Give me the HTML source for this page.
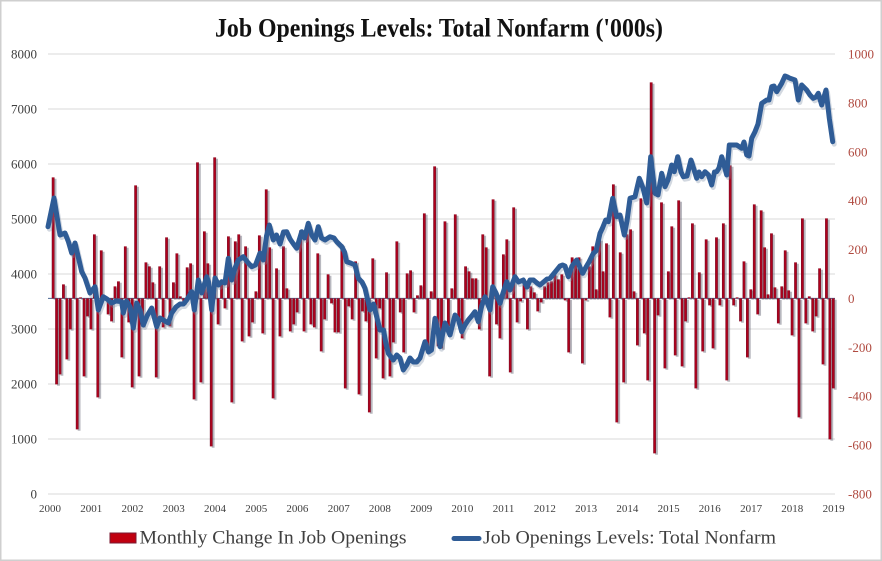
<!DOCTYPE html>
<html><head><meta charset="utf-8">
<style>
html,body{margin:0;padding:0;background:#fff;}
body{width:882px;height:561px;overflow:hidden;}
svg{display:block;}
.ax{font-family:"Liberation Serif",serif;font-size:13px;fill:#404040;}
.axr{font-family:"Liberation Serif",serif;font-size:13px;fill:#b04a40;}
.axx{font-family:"Liberation Serif",serif;font-size:11px;fill:#404040;}
.lg{font-family:"Liberation Serif",serif;font-size:19px;fill:#404040;}
</style></head>
<body>
<svg width="882" height="561" viewBox="0 0 882 561" xmlns="http://www.w3.org/2000/svg">
<defs>
<linearGradient id="bg" gradientUnits="userSpaceOnUse" x1="0" y1="0" x2="1" y2="0" spreadMethod="repeat">
<stop offset="0" stop-color="#64182f"/>
<stop offset="0.22" stop-color="#a8001c"/>
<stop offset="0.45" stop-color="#b8001a"/>
<stop offset="0.82" stop-color="#6e1a30"/>
<stop offset="1" stop-color="#6e1a30"/>
</linearGradient>
</defs>
<rect x="0.75" y="0.75" width="880.5" height="559.5" fill="#fff" stroke="#cfcfcf" stroke-width="1.5"/>

<text x="215" y="36.5" textLength="448" lengthAdjust="spacingAndGlyphs" style="font-family:'Liberation Serif',serif;font-weight:bold;font-size:26px;fill:#111;">Job Openings Levels: Total Nonfarm ('000s)</text>

<g stroke="#d9d9d9" stroke-width="1">
<line x1="48" y1="54" x2="835" y2="54"/>
<line x1="48" y1="109" x2="835" y2="109"/>
<line x1="48" y1="164" x2="835" y2="164"/>
<line x1="48" y1="219" x2="835" y2="219"/>
<line x1="48" y1="274" x2="835" y2="274"/>
<line x1="48" y1="329" x2="835" y2="329"/>
<line x1="48" y1="384" x2="835" y2="384"/>
<line x1="48" y1="439" x2="835" y2="439"/>
<line x1="48" y1="494" x2="835" y2="494"/>
</g>

<g class="ax" text-anchor="end">
<text x="37" y="58.5">8000</text>
<text x="37" y="113.5">7000</text>
<text x="37" y="168.5">6000</text>
<text x="37" y="223.5">5000</text>
<text x="37" y="278.5">4000</text>
<text x="37" y="333.5">3000</text>
<text x="37" y="388.5">2000</text>
<text x="37" y="443.5">1000</text>
<text x="37" y="498.5">0</text>
</g>

<g class="axr">
<text x="848" y="58.5">1000</text>
<text x="848" y="107.4">800</text>
<text x="848" y="156.3">600</text>
<text x="848" y="205.2">400</text>
<text x="848" y="254.1">200</text>
<text x="848" y="302.9">0</text>
<text x="848" y="351.8">-200</text>
<text x="848" y="400.7">-400</text>
<text x="848" y="449.6">-600</text>
<text x="848" y="498.5">-800</text>
</g>

<g class="axx" text-anchor="middle">
<text x="50" y="512">2000</text>
<text x="91.2" y="512">2001</text>
<text x="132.5" y="512">2002</text>
<text x="173.7" y="512">2003</text>
<text x="215" y="512">2004</text>
<text x="256.2" y="512">2005</text>
<text x="297.4" y="512">2006</text>
<text x="338.7" y="512">2007</text>
<text x="379.9" y="512">2008</text>
<text x="421.2" y="512">2009</text>
<text x="462.4" y="512">2010</text>
<text x="503.6" y="512">2011</text>
<text x="544.9" y="512">2012</text>
<text x="586.1" y="512">2013</text>
<text x="627.4" y="512">2014</text>
<text x="668.6" y="512">2015</text>
<text x="709.8" y="512">2016</text>
<text x="751.1" y="512">2017</text>
<text x="792.3" y="512">2018</text>
<text x="833.6" y="512">2019</text>
</g>

<line x1="48" y1="298.4" x2="835" y2="298.4" stroke="#4a6590" stroke-width="1"/>

<g id="bars">
<g transform="translate(50.2,299.8) scale(3.437,1)" fill="#555566" opacity="0.42">
<path id="bp" d="M1 0v-121h.82v121zM2 0v86h.82v-86zM3 0v76h.82v-76zM4 0v-14h.82v14zM5 0v61h.82v-61zM6 0v31h.82v-31zM7 0v-50h.82v50zM8 0v131h.82v-131zM9 0v-1h.82v1zM10 0v78h.82v-78zM11 0v18h.82v-18zM12 0v31h.82v-31zM13 0v-64h.82v64zM14 0v99h.82v-99zM15 0v-48h.82v48zM16 0v-2h.82v2zM17 0v16h.82v-16zM18 0v23h.82v-23zM19 0v-12h.82v12zM20 0v-17h.82v17zM21 0v59h.82v-59zM22 0v-52h.82v52zM23 0v24h.82v-24zM24 0v89h.82v-89zM25 0v-113h.82v113zM26 0v78h.82v-78zM27 0v28h.82v-28zM28 0v-36h.82v36zM29 0v-32h.82v32zM30 0v-16h.82v16zM31 0v79h.82v-79zM32 0v-32h.82v32zM33 0v29h.82v-29zM34 0v-61h.82v61zM35 0v28h.82v-28zM36 0v-16h.82v16zM37 0v-45h.82v45zM38 0v-2h.82v2zM39 0v5h.82v-5zM40 0v-31h.82v31zM41 0v-35h.82v35zM42 0v101h.82v-101zM43 0v-136h.82v136zM44 0v84h.82v-84zM45 0v-67h.82v67zM46 0v-35h.82v35zM47 0v148h.82v-148zM48 0v-141h.82v141zM49 0v26h.82v-26zM50 0v-15h.82v15zM51 0v10h.82v-10zM52 0v-62h.82v62zM53 0v104h.82v-104zM54 0v-57h.82v57zM55 0v-64h.82v64zM56 0v43h.82v-43zM57 0v-52h.82v52zM58 0v38h.82v-38zM59 0v24h.82v-24zM60 0v-7h.82v7zM61 0v-63h.82v63zM62 0v35h.82v-35zM63 0v-109h.82v109zM64 0v-51h.82v51zM65 0v100h.82v-100zM66 0v-30h.82v30zM67 0v38h.82v-38zM68 0v-52h.82v52zM69 0v-10h.82v10zM70 0v33h.82v-33zM71 0v26h.82v-26zM72 0v14h.82v-14zM73 0v-68h.82v68zM74 0v33h.82v-33zM75 0v-69h.82v69zM76 0v26h.82v-26zM77 0v29h.82v-29zM78 0v-45h.82v45zM79 0v53h.82v-53zM80 0v21h.82v-21zM81 0v-24h.82v24zM82 0v5h.82v-5zM83 0v34h.82v-34zM84 0v34h.82v-34zM85 0v-54h.82v54zM86 0v90h.82v-90zM87 0v8h.82v-8zM88 0v21h.82v-21zM89 0v-37h.82v37zM90 0v96h.82v-96zM91 0v13h.82v-13zM92 0v23h.82v-23zM93 0v114h.82v-114zM94 0v-40h.82v40zM95 0v60h.82v-60zM96 0v10h.82v-10zM97 0v80h.82v-80zM98 0v-26h.82v26zM99 0v78h.82v-78zM100 0v44h.82v-44zM101 0v-57h.82v57zM102 0v14h.82v-14zM103 0v54h.82v-54zM104 0v-25h.82v25zM105 0v-28h.82v28zM106 0v14h.82v-14zM107 0v-3h.82v3zM108 0v-13h.82v13zM109 0v-85h.82v85zM110 0v48h.82v-48zM111 0v-7h.82v7zM112 0v-132h.82v132zM113 0v48h.82v-48zM114 0v50h.82v-50zM115 0v-77h.82v77zM116 0v28h.82v-28zM117 0v-10h.82v10zM118 0v-84h.82v84zM119 0v24h.82v-24zM120 0v40h.82v-40zM121 0v-32h.82v32zM122 0v-27h.82v27zM123 0v-20h.82v20zM124 0v-20h.82v20zM125 0v31h.82v-31zM126 0v-64h.82v64zM127 0v-51h.82v51zM128 0v78h.82v-78zM129 0v-99h.82v99zM130 0v26h.82v-26zM131 0v40h.82v-40zM132 0v-44h.82v44zM133 0v-59h.82v59zM134 0v74h.82v-74zM135 0v-91h.82v91zM136 0v24h.82v-24zM137 0v3h.82v-3zM138 0v-14h.82v14zM139 0v31h.82v-31zM140 0v-12h.82v12zM141 0v-6h.82v6zM142 0v13h.82v-13zM143 0v4h.82v-4zM144 0v-12h.82v12zM145 0v-16h.82v16zM146 0v-17h.82v17zM147 0v-24h.82v24zM148 0v-19h.82v19zM149 0v-24h.82v24zM150 0v2h.82v-2zM151 0v54h.82v-54zM152 0v-41h.82v41zM153 0v-36h.82v36zM154 0v-41h.82v41zM155 0v65h.82v-65zM156 0v2h.82v-2zM157 0v-32h.82v32zM158 0v-52h.82v52zM159 0v-9h.82v9zM160 0v-59h.82v59zM161 0v-27h.82v27zM162 0v-55h.82v55zM163 0v19h.82v-19zM164 0v-114h.82v114zM165 0v124h.82v-124zM166 0v-46h.82v46zM167 0v84h.82v-84zM168 0v-64h.82v64zM169 0v-69h.82v69zM170 0v-7h.82v7zM171 0v47h.82v-47zM172 0v-100h.82v100zM173 0v35h.82v-35zM174 0v82h.82v-82zM175 0v-216h.82v216zM176 0v155h.82v-155zM177 0v17h.82v-17zM178 0v-96h.82v96zM179 0v70h.82v-70zM180 0v-27h.82v27zM181 0v-72h.82v72zM182 0v57h.82v-57zM183 0v-98h.82v98zM184 0v68h.82v-68zM185 0v23h.82v-23zM186 0v-1h.82v1zM187 0v-75h.82v75zM188 0v90h.82v-90zM189 0v-26h.82v26zM190 0v53h.82v-53zM191 0v-59h.82v59zM192 0v7h.82v-7zM193 0v50h.82v-50zM194 0v-61h.82v61zM195 0v7h.82v-7zM196 0v-75h.82v75zM197 0v82h.82v-82zM198 0v-133h.82v133zM199 0v7h.82v-7zM200 0v-1h.82v1zM201 0v23h.82v-23zM202 0v-37h.82v37zM203 0v59h.82v-59zM204 0v-9h.82v9zM205 0v-94h.82v94zM206 0v16h.82v-16zM207 0v-88h.82v88zM208 0v-51h.82v51zM209 0v-4h.82v4zM210 0v-65h.82v65zM211 0v-11h.82v11zM212 0v25h.82v-25zM213 0v-12h.82v12zM214 0v-48h.82v48zM215 0v-8h.82v8zM216 0v37h.82v-37zM217 0v-36h.82v36zM218 0v119h.82v-119zM219 0v-80h.82v80zM220 0v25h.82v-25zM221 0v-2h.82v2zM222 0v33h.82v-33zM223 0v18h.82v-18zM224 0v-30h.82v30zM225 0v66h.82v-66zM226 0v-80h.82v80zM227 0v141h.82v-141zM228 0v90h.82v-90z"/>
</g>
<g transform="translate(48.3,298.4) scale(3.437,1)" fill="url(#bg)">
<use href="#bp"/>
</g>
</g>

<polyline transform="translate(1.5,2.5)" fill="none" stroke="#7f8fa6" stroke-opacity="0.35" stroke-width="5" stroke-linejoin="round" stroke-linecap="round" points="48,226.7 54,198 60,235 65,233 68.5,242 71.7,253 75,243 78.5,258 81.7,271.7 85,278 90,293 95,286.7 98.3,310 103.3,296.7 107,299 111.7,303 116,301 121.7,301.7 123.3,313 126.5,301 130,306.7 133.3,328 136.7,303 140,310 143.3,325 147,316 151.7,308 156.7,326.7 160,318 163.3,320 168.3,323 171.7,313 176,307 180,304 183.5,304 186.7,300 191.7,291.7 194.3,310 198.3,280 201.7,293 206.7,276.7 208.5,282 211.7,310 215,278 218.5,285 221.7,281.7 225,283 228.3,258.3 231.7,280 235,268 238.3,260 243.3,256.7 248.3,263 251.7,266.7 255.5,265 260,253 263.3,260 266.5,236 269.3,225 273.3,240 276.5,235 280,244 283.5,232 286.7,231.7 290,239 293.5,244 296.7,248.3 301.7,231.7 304.5,238 308.3,223.3 311.7,235 315,240 318.3,226.7 321.5,238 325,240 330,236.7 334,238 336.7,241.7 341.7,246.7 344.5,252 346.7,261.7 350.5,263 355,265 358.3,278.3 362,282 365,288.3 370,310 373.5,304 377,318 380,330 383.5,330 386,344 388.3,353.3 393.3,360 396.7,355 400,358 403.3,370 406.7,365 410,358 413.3,362 416.7,362 420,358 425,341.7 428.5,352 431.5,350 435,318.3 438,331 440,346.7 445,323 450,335 455,315 458.5,320 461.7,331.7 465,325 468.3,320 471.7,316 475,311.7 478.3,321.7 481.7,306 485,296.7 490,310 492.7,286.7 496,293 500,303.3 503,293 506.7,281.7 510,290 515,276.7 518.5,282 523.3,280 527,287 530,280 533.5,280 537,283 540,285 543.5,282 547,279 550,278.3 553.5,274 556.7,270 560,266 562.7,265 565,266 568.3,276.7 572,266 576.7,260 582.7,273.3 586,267 589,262 593.3,253.3 596,251 600,233.3 602.5,228 605.7,220 608.3,221.7 612.7,198.3 616.7,216.7 620,215 624.3,235 627,221 630,198.3 635,196.7 639.3,178.3 643,188 646.7,203 650.7,156.7 655,193.3 658,195 661.7,173.3 665,186.7 668,180 671.7,165 674.3,171.7 677.7,156.7 681,172 683.3,176.7 687,176 691,160 696.7,178.3 699,172 701.7,176.7 705,171.7 708.5,175 711.7,185 714.5,172 716.7,171.7 719,168 721.7,156.7 726.7,175 729.3,145 733,145 736.7,145 741.7,148.3 744,142 746.7,155 749,156 751.7,138.3 755,131.7 758,124 761.7,103.3 766.7,100 769,100 771.7,86.7 774,86 776.7,91.7 781.7,83.3 785,76 787.5,77 790,78.3 795,80 798.3,100 801.7,85 806.7,90 810,95 813.3,98.3 816,97 818.3,93.3 821.7,105 826,90 829.3,118.3 832.7,141.7"/>
<polyline fill="none" stroke="#2f5c96" stroke-width="5" stroke-linejoin="round" stroke-linecap="round" points="48,226.7 54,198 60,235 65,233 68.5,242 71.7,253 75,243 78.5,258 81.7,271.7 85,278 90,293 95,286.7 98.3,310 103.3,296.7 107,299 111.7,303 116,301 121.7,301.7 123.3,313 126.5,301 130,306.7 133.3,328 136.7,303 140,310 143.3,325 147,316 151.7,308 156.7,326.7 160,318 163.3,320 168.3,323 171.7,313 176,307 180,304 183.5,304 186.7,300 191.7,291.7 194.3,310 198.3,280 201.7,293 206.7,276.7 208.5,282 211.7,310 215,278 218.5,285 221.7,281.7 225,283 228.3,258.3 231.7,280 235,268 238.3,260 243.3,256.7 248.3,263 251.7,266.7 255.5,265 260,253 263.3,260 266.5,236 269.3,225 273.3,240 276.5,235 280,244 283.5,232 286.7,231.7 290,239 293.5,244 296.7,248.3 301.7,231.7 304.5,238 308.3,223.3 311.7,235 315,240 318.3,226.7 321.5,238 325,240 330,236.7 334,238 336.7,241.7 341.7,246.7 344.5,252 346.7,261.7 350.5,263 355,265 358.3,278.3 362,282 365,288.3 370,310 373.5,304 377,318 380,330 383.5,330 386,344 388.3,353.3 393.3,360 396.7,355 400,358 403.3,370 406.7,365 410,358 413.3,362 416.7,362 420,358 425,341.7 428.5,352 431.5,350 435,318.3 438,331 440,346.7 445,323 450,335 455,315 458.5,320 461.7,331.7 465,325 468.3,320 471.7,316 475,311.7 478.3,321.7 481.7,306 485,296.7 490,310 492.7,286.7 496,293 500,303.3 503,293 506.7,281.7 510,290 515,276.7 518.5,282 523.3,280 527,287 530,280 533.5,280 537,283 540,285 543.5,282 547,279 550,278.3 553.5,274 556.7,270 560,266 562.7,265 565,266 568.3,276.7 572,266 576.7,260 582.7,273.3 586,267 589,262 593.3,253.3 596,251 600,233.3 602.5,228 605.7,220 608.3,221.7 612.7,198.3 616.7,216.7 620,215 624.3,235 627,221 630,198.3 635,196.7 639.3,178.3 643,188 646.7,203 650.7,156.7 655,193.3 658,195 661.7,173.3 665,186.7 668,180 671.7,165 674.3,171.7 677.7,156.7 681,172 683.3,176.7 687,176 691,160 696.7,178.3 699,172 701.7,176.7 705,171.7 708.5,175 711.7,185 714.5,172 716.7,171.7 719,168 721.7,156.7 726.7,175 729.3,145 733,145 736.7,145 741.7,148.3 744,142 746.7,155 749,156 751.7,138.3 755,131.7 758,124 761.7,103.3 766.7,100 769,100 771.7,86.7 774,86 776.7,91.7 781.7,83.3 785,76 787.5,77 790,78.3 795,80 798.3,100 801.7,85 806.7,90 810,95 813.3,98.3 816,97 818.3,93.3 821.7,105 826,90 829.3,118.3 832.7,141.7"/>

<rect x="110" y="533" width="26" height="10" fill="#c00010" stroke="#7a1a32" stroke-width="1"/>
<text class="lg" x="139.5" y="543.5" textLength="267" lengthAdjust="spacingAndGlyphs">Monthly Change In Job Openings</text>
<line x1="454" y1="538.5" x2="479" y2="538.5" stroke="#2f5c96" stroke-width="5" stroke-linecap="round"/>
<text class="lg" x="483" y="543.5" textLength="293" lengthAdjust="spacingAndGlyphs">Job Openings Levels: Total Nonfarm</text>
</svg>
</body></html>
